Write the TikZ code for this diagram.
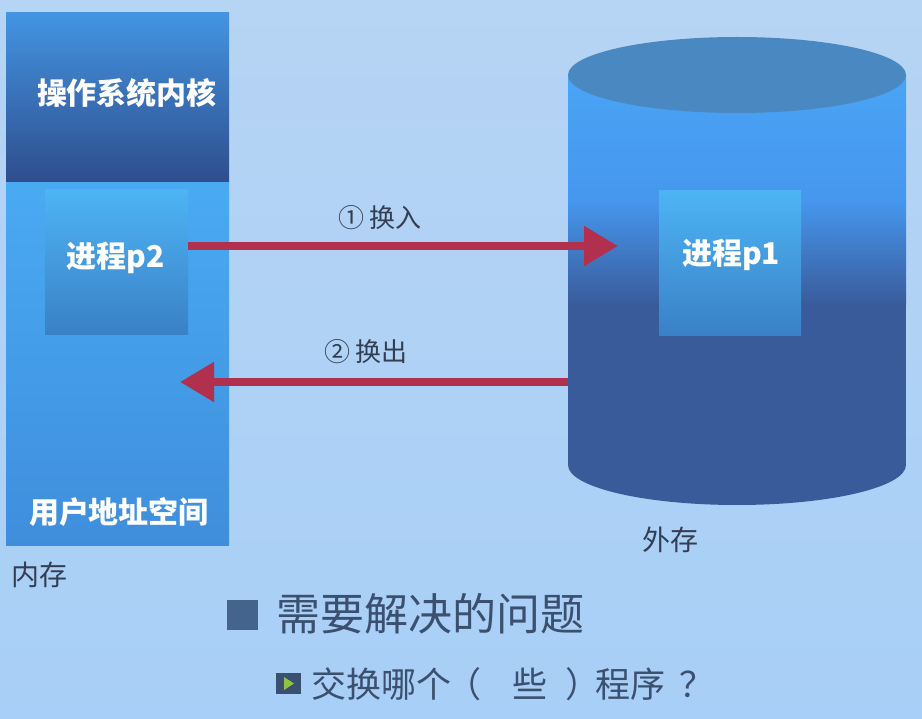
\documentclass[tikz,border=0pt]{standalone}
\usepackage{fontspec}
\newfontfamily\cjk{Noto Sans CJK SC}
\usetikzlibrary{arrows.meta}
\definecolor{bgtop}{HTML}{B6D4F4}
\definecolor{bgbot}{HTML}{A8CFF7}
\definecolor{kerntop}{HTML}{4394E2}
\definecolor{kernmid}{HTML}{3768B6}
\definecolor{kernbot}{HTML}{2F4D8C}
\definecolor{usertop}{HTML}{49AAF2}
\definecolor{userbot}{HTML}{3F8EDC}
\definecolor{boxtop}{HTML}{4DB4F4}
\definecolor{boxbot}{HTML}{3A80C6}
\definecolor{cyltop}{HTML}{4AA4F5}
\definecolor{cylmid}{HTML}{3B79DE}
\definecolor{cyldark}{HTML}{3A5B9A}
\definecolor{cyllid}{HTML}{4A88C2}
\definecolor{arrowred}{HTML}{B0304E}
\definecolor{labeltext}{HTML}{333E52}
\definecolor{headtext}{HTML}{3B4F6E}
\definecolor{bulletsq}{HTML}{44648E}
\definecolor{subsq}{HTML}{3A5070}
\definecolor{subtri}{HTML}{8CC63F}
\tikzset{
  whitelabel/.style={font=\cjk\bfseries\fontsize{30}{35}\selectfont, text=white, inner sep=0pt},
  darklabel/.style={font=\cjk\fontsize{28}{33}\selectfont, text=labeltext, inner sep=0pt},
  swaparrow/.style={draw=arrowred, line width=8pt, -{Triangle[length=34pt,width=38pt]}},
}
\begin{document}
\begin{tikzpicture}[x=1pt,y=-1pt]
% background
\shade[top color=bgtop, bottom color=bgbot] (0,0) rectangle (922,719);
\useasboundingbox (0,0) rectangle (922,719);

% memory column
\shade[top color=kerntop, middle color=kernmid, bottom color=kernbot] (6,13) rectangle (229,183);
\shade[top color=usertop, bottom color=userbot] (6,183) rectangle (229,545);
\shade[top color=boxtop, bottom color=boxbot] (45,190) rectangle (188,335);
\node[whitelabel] (kernel) at (127,93) {操作系统内核};
\node[whitelabel, inner sep=2pt] (p2) at (116,258) {进程p2};
\node[whitelabel] (user) at (119,512) {用户地址空间};
\node[darklabel] (mem) at (40,575) {内存};

% disk cylinder
\fill[cyldark] (737,465) ellipse [x radius=169pt, y radius=40pt];
\shade[top color=cyltop, bottom color=cyltop!70!cylmid] (568,75) rectangle (906,201);
\shade[top color=cyltop!70!cylmid, middle color=cylmid, bottom color=cyldark] (568,200) rectangle (906,305);
\fill[cyldark] (568,304) rectangle (906,466);
\fill[cyllid] (737,75) ellipse [x radius=169pt, y radius=38pt];
\shade[top color=boxtop, bottom color=boxbot] (659,191) rectangle (801,336);
\node[whitelabel] (p1) at (731,255) {进程p1};
\node[darklabel] (disk) at (670,540) {外存};
\coordinate (inend) at (618,246);
\coordinate (outstart) at (568,382);
\coordinate (outend) at (180,382);

% arrows
\draw[swaparrow] (188,246) -- (inend);
\draw[swaparrow] (outstart) -- (outend);
\node[darklabel, font=\cjk\fontsize{26}{31}\selectfont] (inlabel) at (380,218) {① 换入};
\node[darklabel, font=\cjk\fontsize{26}{31}\selectfont] (outlabel) at (366,352) {② 换出};

% bottom text
\fill[bulletsq] (227,600) rectangle (258,630);
\node[anchor=west, font=\cjk\fontsize{44}{50}\selectfont, text=headtext, inner sep=0pt] (q1) at (276,614) {需要解决的问题};
\fill[subsq] (276,673) rectangle (301,694);
\fill[subtri] (284,677) -- (294,683.5) -- (284,690) -- cycle;
\node[anchor=west, font=\cjk\fontsize{35}{40}\selectfont, text=headtext, inner sep=0pt] (q2) at (311,684) {交换哪个\hspace{-5pt}（\hspace{31pt}些\hspace{18pt}）\hspace{-5pt}程序\hspace{14pt}？};
\end{tikzpicture}
\end{document}
